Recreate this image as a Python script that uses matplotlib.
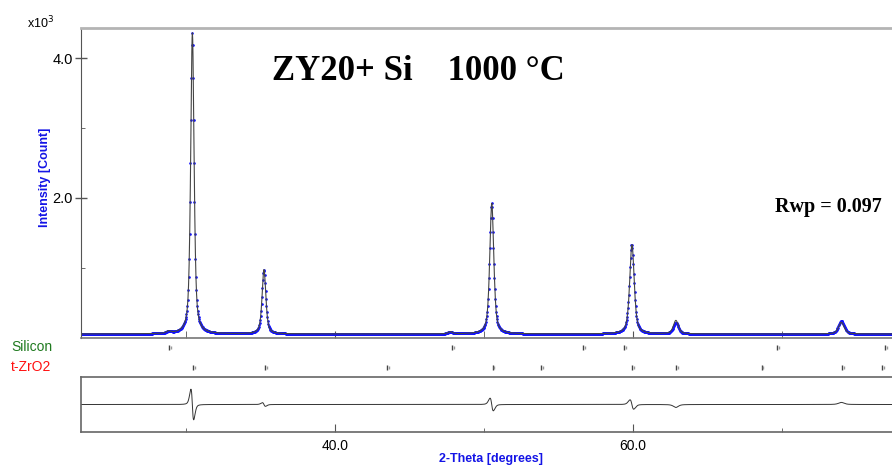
import matplotlib.pyplot as plt
import numpy as np
from matplotlib.ticker import FixedLocator, FormatStrFormatter

plt.rcParams['font.family'] = ['Liberation Sans', 'DejaVu Sans']

# peaks: 2-theta, height above background (x10^3 counts), FWHM
peak_pos = [28.85, 30.42, 35.23, 47.75, 50.52, 59.93, 62.89, 74.0]
peak_height = [0.03, 4.31, 0.92, 0.03, 1.87, 1.28, 0.16, 0.19]
peak_fwhm = [0.35, 0.27, 0.3, 0.35, 0.32, 0.36, 0.4, 0.45]
background = 0.05

# misfit of the refined profile at each peak (position offset, height ratio)
calc_shift = [0.0, 0.008, 0.005, 0.0, 0.009, 0.011, 0.0, 0.0]
calc_ratio = [1.0, 1.0, 1.0, 1.0, 1.0, 1.0, 1.2, 0.88]

# reflection markers
silicon_pos = [28.88, 47.83, 56.67, 59.4, 69.7, 76.96]
zro2_pos = [30.5, 35.3, 43.47, 50.58, 53.85, 59.97, 62.93, 68.64, 74.07, 76.73]

xmin, xmax = 22.95, 77.4
W, H = 892, 466


def profile(tt, pos, height, fwhm, shift, ratio):
    y = np.full_like(tt, background)
    for p, h, w, s, r in zip(pos, height, fwhm, shift, ratio):
        d = (tt - p - s) / (w / 2)
        lor = 1 / (1 + d ** 2)
        gau = np.exp(-np.log(2) * d ** 2)
        y += h * r * (0.6 * lor + 0.4 * gau)
    return y


tt = np.arange(xmin, xmax, 0.02)
tt_obs = np.arange(xmin, xmax, 0.03)
ones = [1.0] * len(peak_pos)
zeros = [0.0] * len(peak_pos)
obs = profile(tt_obs, peak_pos, peak_height, peak_fwhm, zeros, ones)
calc = profile(tt, peak_pos, peak_height, peak_fwhm, calc_shift, calc_ratio)
diff = profile(tt, peak_pos, peak_height, peak_fwhm, zeros, ones) - calc

fig = plt.figure(figsize=(W / 100, H / 100), dpi=100)


def box(x0, y0, x1, y1):
    return [x0 / W, 1 - y1 / H, (x1 - x0) / W, (y1 - y0) / H]


spine_col = '#555555'

# main pattern
ax = fig.add_axes(box(81, 28, 892, 337.5))
ax.plot(tt_obs, obs, ls='none', marker='.', ms=1.8, color='#1010ff')
ax.plot(tt, calc, color='#444444', lw=0.8)
ax.set_xlim(xmin, xmax)
ax.set_ylim(0.0, 4.43)
ax.spines['right'].set_visible(False)
ax.spines['top'].set_color('#b4b4b4')
ax.spines['top'].set_linewidth(2)
ax.spines['left'].set_color(spine_col)
ax.spines['bottom'].set_color('#777777')
ax.spines['bottom'].set_linewidth(1.2)
ax.yaxis.set_major_locator(FixedLocator([2.0, 4.0]))
ax.yaxis.set_minor_locator(FixedLocator([1.0, 3.0]))
ax.yaxis.set_major_formatter(FormatStrFormatter('%.1f'))
ax.xaxis.set_major_locator(FixedLocator([40, 60]))
ax.xaxis.set_minor_locator(FixedLocator([30, 50, 70]))
ax.tick_params(axis='y', which='major', direction='inout', length=8, width=1,
               color=spine_col, labelsize=10.5, pad=2)
ax.tick_params(axis='y', which='minor', direction='in', length=3, color=spine_col)
ax.tick_params(axis='x', which='both', direction='in', length=5, color='#555555',
               labelbottom=False)

# reflection marker rows
axm = fig.add_axes(box(81, 337.5, 892, 377))
axm.set_xlim(xmin, xmax)
axm.set_ylim(0, 39.5)
axm.axis('off')
for p in silicon_pos:
    axm.vlines(p, 27, 32.5, color='#444444', lw=1)
    axm.vlines(p + 0.13, 28, 31, color='#999999', lw=1)
for p in zro2_pos:
    axm.vlines(p, 7, 12.5, color='#444444', lw=1)
    axm.vlines(p + 0.13, 8, 11, color='#999999', lw=1)

fig.text(11 / W, 1 - 347 / H, 'Silicon', color='#1f7a1f', fontsize=10, va='center')
fig.text(11 / W, 1 - 367 / H, 't-ZrO2', color='#ff1010', fontsize=10, va='center')

# difference curve
axd = fig.add_axes(box(81, 377, 892, 432))
axd.plot(tt, diff, color='#333333', lw=0.7)
axd.set_xlim(xmin, xmax)
axd.set_ylim(-0.3, 0.3)
axd.spines['right'].set_visible(False)
for s in ['top', 'left', 'bottom']:
    axd.spines[s].set_color('#666666')
    axd.spines[s].set_linewidth(1.2)
axd.set_yticks([])
axd.xaxis.set_major_locator(FixedLocator([40, 60]))
axd.xaxis.set_minor_locator(FixedLocator([30, 50, 70]))
axd.xaxis.set_major_formatter(FormatStrFormatter('%.1f'))
axd.tick_params(axis='x', which='major', direction='in', length=6, color='#555555',
                labelsize=10, pad=5)
axd.tick_params(axis='x', which='minor', direction='in', length=3, color='#555555')

# labels and annotations
fig.text(27 / W, 1 - 28 / H, 'x10$^3$', fontsize=9, va='baseline')
fig.text(45 / W, 1 - 177 / H, 'Intensity [Count]', color='#1414e6', fontsize=9,
         fontweight='bold', rotation=90, ha='center', va='center')
fig.text(491 / W, 1 - 459 / H, '2-Theta [degrees]', color='#1414e6', fontsize=9,
         fontweight='bold', ha='center', va='center')
fig.text(272 / W, 1 - 80 / H, 'ZY20+ Si    1000 °C', family='Liberation Serif',
         fontsize=25, fontweight='bold', va='baseline')
fig.text(775 / W, 1 - 212 / H, 'Rwp = 0.097', family='Liberation Serif',
         fontsize=14.5, fontweight='bold', va='baseline')

fig.savefig('out.png', dpi=100)
